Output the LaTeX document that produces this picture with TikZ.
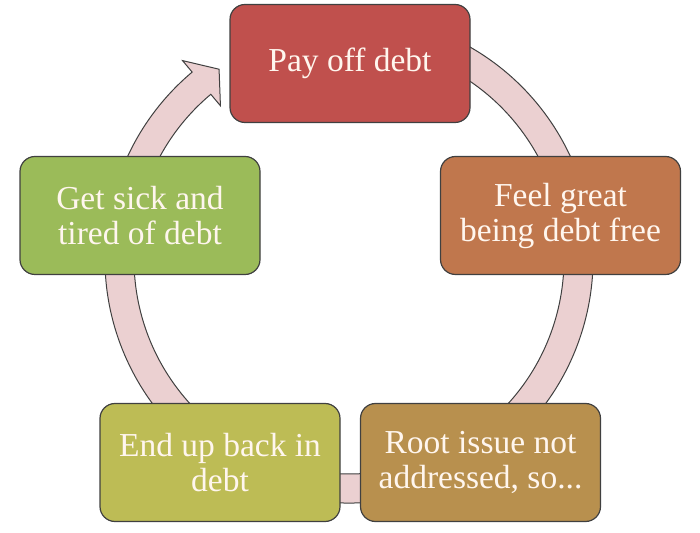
\documentclass[tikz,border=0pt]{standalone}
\usepackage{fontspec}
\setmainfont{Liberation Serif}
\usepackage{tikz}
\usetikzlibrary{calc}
\usepackage{xcolor}
\definecolor{debtred}{HTML}{C0504D}
\definecolor{debtorange}{HTML}{C0774D}
\definecolor{debtgold}{HTML}{B8904E}
\definecolor{debtolive}{HTML}{BDBC55}
\definecolor{debtgreen}{HTML}{9BBB59}
\definecolor{ringfill}{HTML}{EBD0D1}
\definecolor{edgegray}{HTML}{404040}
\definecolor{labelcream}{HTML}{FFF6EE}

\tikzset{
  stagebox/.style={draw=edgegray, line width=1.2pt, rounded corners=15pt,
    minimum width=240pt, minimum height=118pt, align=center,
    text=labelcream, font=\fontsize{33.5}{35}\selectfont},
  ring/.style={draw=edgegray, line width=1pt, fill=ringfill}
}

\begin{document}
\begin{tikzpicture}[x=1pt, y=1pt]
\useasboundingbox (0,0) rectangle (700,532);

% Ring arrow behind the boxes
\coordinate (ctr) at (349,273);
\draw[ring] ($(ctr)+(75:244pt)$) arc[start angle=75, end angle=-230, radius=244pt]
  -- ($(ctr)+(130:259pt)$) -- ($(ctr)+(124.4:230pt)$) -- ($(ctr)+(130:200pt)$)
  -- ($(ctr)+(130:215pt)$) arc[start angle=130, end angle=435, radius=215pt] -- cycle;

% Stages
\node[stagebox, fill=debtred] (pay) at (350,468.5) {Pay off debt};
\node[stagebox, fill=debtorange] (free) at (560.5,316.5) {Feel great\\being debt free};
\node[stagebox, fill=debtgold] (root) at (480.5,69.5) {Root issue not\\addressed, so...};
\node[stagebox, fill=debtolive] (back) at (220,69.5) {End up back in\\debt};
\node[stagebox, fill=debtgreen] (sick) at (140,316.5) {Get sick and\\tired of debt};

\end{tikzpicture}
\end{document}
